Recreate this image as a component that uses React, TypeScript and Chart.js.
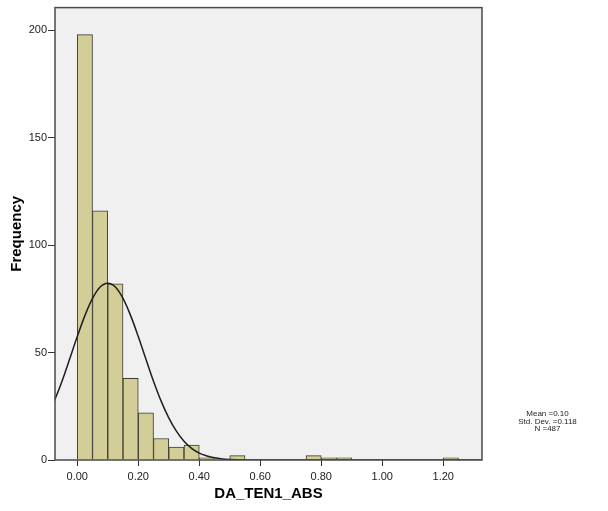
import React, { useEffect, useRef } from "react";
import { Chart, registerables } from "chart.js";

Chart.register(...registerables);

// Histogram bins (start of each 0.05-wide bin) and frequencies
const binStarts = [
  0.0, 0.05, 0.1, 0.15, 0.2, 0.25, 0.3, 0.35, 0.4, 0.45, 0.5, 0.55, 0.6, 0.65,
  0.7, 0.75, 0.8, 0.85, 0.9, 0.95, 1.0, 1.05, 1.1, 1.15, 1.2,
];
const counts = [
  198, 116, 82, 38, 22, 10, 6, 7, 1, 0, 2, 0, 0, 0, 0, 2, 1, 1, 0, 0, 0, 0, 0,
  0, 1,
];
const binWidth = 0.05;

// Normal curve
const curveX = [
  -0.08, -0.05, -0.025, 0.0, 0.025, 0.05, 0.075, 0.1, 0.125, 0.15, 0.175, 0.2,
  0.225, 0.25, 0.275, 0.3, 0.325, 0.35, 0.375, 0.4, 0.425, 0.45, 0.475, 0.5,
  0.55, 0.6, 0.7, 0.9, 1.1, 1.35,
];
const curveY = [
  25.7, 36.7, 47.0, 57.5, 67.2, 75.2, 80.5, 82.3, 80.5, 75.2, 67.2, 57.5, 47.0,
  36.7, 27.4, 19.6, 13.4, 8.7, 5.4, 3.2, 1.9, 1.0, 0.5, 0.26, 0.05, 0.01, 0, 0,
  0, 0,
];

const yTicks = [0, 50, 100, 150, 200];
const xTicks = [0, 0.2, 0.4, 0.6, 0.8, 1.0, 1.2];
const xTitle = "DA_TEN1_ABS";
const yTitle = "Frequency";
const statsLines = ["Mean =0.10", "Std. Dev. =0.118", "N =487"];

const FONT = "'Liberation Sans', Arial, sans-serif";

export default function App() {
  const ref = useRef<HTMLCanvasElement>(null);

  useEffect(() => {
    document.body.style.margin = "0";
    const canvas = ref.current!;

    const framePlugin = {
      id: "spssFrame",
      beforeDraw(chart: any) {
        const { ctx, chartArea: a } = chart;
        ctx.save();
        ctx.fillStyle = "#f0f0f0";
        ctx.fillRect(a.left, a.top, a.right - a.left, a.bottom - a.top);
        ctx.restore();
      },
      afterDraw(chart: any) {
        const { ctx, chartArea: a } = chart;
        ctx.save();
        ctx.strokeStyle = "#4a4a4a";
        ctx.lineWidth = 1.5;
        ctx.strokeRect(a.left, a.top, a.right - a.left, a.bottom - a.top);
        ctx.fillStyle = "#222";
        ctx.font = `8px ${FONT}`;
        ctx.textAlign = "center";
        ctx.textBaseline = "middle";
        const cx = 547.5;
        const ys = [414, 421.5, 429];
        statsLines.forEach((t, i) => ctx.fillText(t, cx, ys[i]));
        ctx.restore();
      },
    };

    const chart = new Chart(canvas, {
      type: "bar",
      data: {
        datasets: [
          {
            type: "bar",
            data: binStarts.map((s, i) => ({
              x: s + binWidth / 2,
              y: counts[i] > 0 ? counts[i] : null,
            })) as any,
            backgroundColor: "#d3ce98",
            borderColor: "#3b3b33",
            borderWidth: 1,
            barPercentage: 1,
            categoryPercentage: 1,
            grouped: false,
            order: 2,
          },
          {
            type: "line",
            data: curveX.map((x, i) => ({ x, y: curveY[i] })) as any,
            borderColor: "#1e1e1e",
            borderWidth: 1.5,
            pointRadius: 0,
            cubicInterpolationMode: "monotone",
            fill: false,
            order: 1,
          },
        ],
      },
      options: {
        responsive: false,
        animation: false,
        devicePixelRatio: 1,
        layout: { padding: { left: 0, top: 7, right: 126, bottom: 0 } },
        plugins: {
          legend: { display: false },
          tooltip: { enabled: false },
        },
        scales: {
          x: {
            type: "linear",
            min: -0.073,
            max: 1.327,
            offset: false,
            afterBuildTicks: (s: any) => {
              s.ticks = xTicks.map((v) => ({ value: v }));
            },
            afterFit: (s: any) => {
              s.height = 51;
            },
            ticks: {
              autoSkip: false,
              maxRotation: 0,
              padding: 4,
              color: "#222",
              font: { family: FONT, size: 11 },
              callback: (v: any) => Number(v).toFixed(2),
            },
            grid: {
              offset: false,
              drawOnChartArea: false,
              drawTicks: true,
              tickLength: 6,
              color: "#333",
            },
            border: { display: false },
            title: {
              display: true,
              text: xTitle,
              color: "#000",
              font: { family: FONT, size: 15, weight: "bold" },
              padding: { top: 0, bottom: 8 },
            },
          },
          y: {
            type: "linear",
            min: 0,
            max: 210.6,
            afterBuildTicks: (s: any) => {
              s.ticks = yTicks.map((v) => ({ value: v }));
            },
            afterFit: (s: any) => {
              s.width = 55;
            },
            ticks: {
              autoSkip: false,
              padding: 1,
              color: "#222",
              font: { family: FONT, size: 11 },
            },
            grid: {
              offset: false,
              drawOnChartArea: false,
              drawTicks: true,
              tickLength: 7,
              color: "#333",
            },
            border: { display: false },
            title: {
              display: true,
              text: yTitle,
              color: "#000",
              font: { family: FONT, size: 15, weight: "bold" },
              padding: { top: 8, bottom: 0 },
            },
          },
        },
      } as any,
      plugins: [framePlugin],
    });

    return () => chart.destroy();
  }, []);

  return (
    <div style={{ width: 608, height: 511 }}>
      <canvas
        ref={ref}
        width={608}
        height={511}
        style={{ display: "block", width: 608, height: 511 }}
      />
    </div>
  );
}
